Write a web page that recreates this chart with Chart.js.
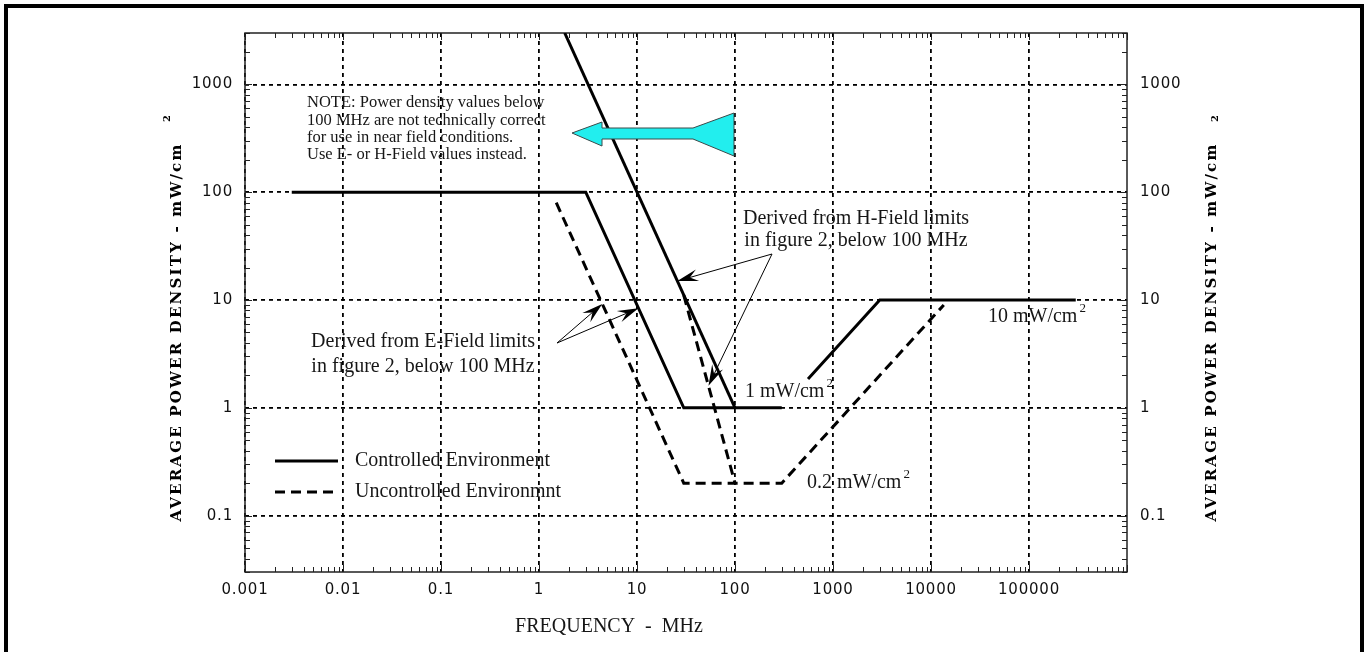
<!DOCTYPE html>
<html>
<head>
<meta charset="utf-8">
<script src="https://cdn.jsdelivr.net/npm/chart.js@4.4.0/dist/chart.umd.min.js"></script>
<style>
  html, body { margin: 0; padding: 0; background: #fff; }
  canvas { display: block; }
</style>
</head>
<body>
<canvas id="chart" width="1368" height="652"></canvas>
<script>
// axis ticks
const xTickValues = [0.001, 0.01, 0.1, 1, 10, 100, 1000, 10000, 100000];
const xTickLabels = ['0.001', '0.01', '0.1', '1', '10', '100', '1000', '10000', '100000'];
const yTickValues = [0.1, 1, 10, 100, 1000];
const yTickLabels = ['0.1', '1', '10', '100', '1000'];

// controlled environment (solid), MHz -> mW/cm2
const ctrlFreq = [0.003, 3, 30, 300, 400, 556, 3000, 300000];
const ctrlDensity = [100, 100, 1, 1, null, 1.85, 10, 10];
// uncontrolled environment (dashed)
const uncFreq = [1.5, 30, 300, 13500];
const uncDensity = [80, 0.2, 0.2, 9];
// derived from H-field limits
const hCtrlFreq = [1.83, 100];
const hCtrlDensity = [3000, 1];
const hUncFreq = [30, 100];
const hUncDensity = [11.1, 0.2];

const SERIF = '"Liberation Serif", "Times New Roman", serif';
const INK = '#161616';

function pts(f, d) {
    return f.map((v, i) => ({ x: v, y: d[i] }));
}

function line(data, dashed) {
    return {
        data: data,
        showLine: true,
        borderColor: '#000',
        borderWidth: 3,
        borderDash: dashed ? [10, 6] : [],
        borderCapStyle: 'butt',
        pointRadius: 0,
        spanGaps: false,
        tension: 0
    };
}

function pointer(ctx, x0, y0, x1, y1) {
    const a = Math.atan2(y1 - y0, x1 - x0);
    const len = 21, half = 6, notch = 13;
    ctx.beginPath();
    ctx.moveTo(x0, y0);
    ctx.lineTo(x1 - Math.cos(a) * notch, y1 - Math.sin(a) * notch);
    ctx.lineWidth = 1;
    ctx.strokeStyle = '#000';
    ctx.setLineDash([]);
    ctx.stroke();
    ctx.save();
    ctx.translate(x1, y1);
    ctx.rotate(a);
    ctx.beginPath();
    ctx.moveTo(0, 0);
    ctx.lineTo(-len, -half);
    ctx.lineTo(-notch, 0);
    ctx.lineTo(-len, half);
    ctx.closePath();
    ctx.fillStyle = '#000';
    ctx.fill();
    ctx.restore();
}

function unitLabel(ctx, text, x, y) {
    ctx.font = '20px ' + SERIF;
    ctx.textAlign = 'left';
    ctx.textBaseline = 'middle';
    ctx.fillText(text, x, y);
    const w = ctx.measureText(text).width;
    ctx.font = '13px ' + SERIF;
    ctx.fillText('2', x + w + 2, y - 8);
}

function yTitle(ctx, cx, cy, supShift) {
    ctx.save();
    ctx.translate(cx, cy);
    ctx.rotate(-Math.PI / 2);
    ctx.font = 'bold 15px "DejaVu Serif", serif';
    ctx.letterSpacing = '2.2px';
    ctx.textAlign = 'center';
    ctx.textBaseline = 'alphabetic';
    const t = 'AVERAGE POWER DENSITY - mW/cm';
    ctx.fillText(t, 0, 0);
    const w = ctx.measureText(t).width;
    ctx.font = 'bold 10px "DejaVu Serif", serif';
    ctx.letterSpacing = '0px';
    ctx.fillText('2', w / 2 + 24, supShift);
    ctx.restore();
}

const decor = {
    id: 'decor',
    beforeDraw(chart) {
        chart.ctx.letterSpacing = '0.8px';
    },
    beforeDatasetsDraw(chart) {
        const ctx = chart.ctx;
        ctx.letterSpacing = '0px';
        const a = chart.chartArea;
        const xs = chart.scales.x, ys = chart.scales.y;
        ctx.save();
        ctx.strokeStyle = '#222';
        ctx.lineWidth = 1;
        ctx.beginPath();
        // inward log ticks on all four sides
        for (let n = -3; n <= 6; n++) {
            for (let k = 1; k <= 9; k++) {
                const v = k * Math.pow(10, n);
                if (v < xs.min || v > xs.max) continue;
                const p = Math.round(xs.getPixelForValue(v)) + 0.5;
                const l = k === 1 ? 7 : 5;
                ctx.moveTo(p, a.bottom); ctx.lineTo(p, a.bottom - l);
                ctx.moveTo(p, a.top); ctx.lineTo(p, a.top + l);
            }
        }
        for (let n = -2; n <= 3; n++) {
            for (let k = 1; k <= 9; k++) {
                const v = k * Math.pow(10, n);
                if (v < ys.min || v > ys.max) continue;
                const p = Math.round(ys.getPixelForValue(v)) + 0.5;
                const l = k === 1 ? 7 : 5;
                ctx.moveTo(a.left, p); ctx.lineTo(a.left + l, p);
                ctx.moveTo(a.right, p); ctx.lineTo(a.right - l, p);
            }
        }
        ctx.stroke();
        ctx.lineWidth = 1.5;
        ctx.strokeRect(a.left, a.top, a.right - a.left, a.bottom - a.top);
        ctx.restore();
    },
    afterDraw(chart) {
        const ctx = chart.ctx;
        const xs = chart.scales.x, ys = chart.scales.y;
        const px = (f) => xs.getPixelForValue(f);
        const py = (d) => ys.getPixelForValue(d);
        ctx.save();
        ctx.letterSpacing = '0px';

        // outer frame
        ctx.fillStyle = '#000';
        ctx.fillRect(4, 4, 4, 660);
        ctx.fillRect(4, 4, 1360, 4);
        ctx.fillRect(1360, 4, 4, 660);

        // cyan arrow
        ctx.beginPath();
        ctx.moveTo(572, 133);
        ctx.lineTo(602, 122);
        ctx.lineTo(602, 128);
        ctx.lineTo(693, 128);
        ctx.lineTo(734, 113);
        ctx.lineTo(734, 156);
        ctx.lineTo(693, 139);
        ctx.lineTo(602, 139);
        ctx.lineTo(602, 146);
        ctx.closePath();
        ctx.fillStyle = '#22eeee';
        ctx.fill();
        ctx.strokeStyle = '#3a4a4a';
        ctx.lineWidth = 1;
        ctx.stroke();

        ctx.fillStyle = INK;
        ctx.textBaseline = 'middle';
        ctx.textAlign = 'left';
        ctx.font = '16.5px ' + SERIF;
        ['NOTE: Power density values below',
         '100 MHz are not technically correct',
         'for use in near field conditions.',
         'Use E- or H-Field values instead.'].forEach((s, i) => {
            ctx.fillText(s, 307, 103 + i * 17.3);
        });

        ctx.font = '20px ' + SERIF;
        ctx.textAlign = 'center';
        ctx.fillText('Derived from H-Field limits', 856, 219);
        ctx.fillText('in figure 2, below 100 MHz', 856, 241);
        ctx.fillText('Derived from E-Field limits', 423, 342);
        ctx.fillText('in figure 2, below 100 MHz', 423, 367);

        pointer(ctx, 772, 254, px(25.8), py(15));
        pointer(ctx, 772, 254, px(53.6), py(1.6));
        pointer(ctx, 557, 343, px(4.42), py(9.2));
        pointer(ctx, 557, 343, px(10.35), py(8.4));

        ctx.fillStyle = INK;
        unitLabel(ctx, '1 mW/cm', 745, 392);
        unitLabel(ctx, '0.2 mW/cm', 807, 483);
        unitLabel(ctx, '10 mW/cm', 988, 317);

        // legend
        ctx.strokeStyle = '#000';
        ctx.lineWidth = 3;
        ctx.setLineDash([]);
        ctx.beginPath(); ctx.moveTo(275, 461); ctx.lineTo(338, 461); ctx.stroke();
        ctx.setLineDash([10, 6]);
        ctx.beginPath(); ctx.moveTo(275, 492); ctx.lineTo(338, 492); ctx.stroke();
        ctx.setLineDash([]);
        ctx.font = '20px ' + SERIF;
        ctx.textAlign = 'left';
        ctx.fillText('Controlled Environment', 355, 461);
        ctx.fillText('Uncontrolled Environmnt', 355, 492);

        // axis titles
        ctx.font = '20px ' + SERIF;
        ctx.textAlign = 'center';
        ctx.fillText('FREQUENCY  -  MHz', 609, 627);
        ctx.fillStyle = '#000';
        yTitle(ctx, 181, 332, -11);
        yTitle(ctx, 1216, 332, 2);
        ctx.restore();
    }
};

const tickFont = { family: '"DejaVu Sans", sans-serif', size: 15 };

function logAxis(position, min, max, values, labels, width) {
    return {
        type: 'logarithmic',
        position: position,
        min: min,
        max: max,
        afterBuildTicks: (s) => { s.ticks = values.map(v => ({ value: v })); },
        afterFit: (s) => {
            if (position === 'bottom') s.height = width; else s.width = width;
        },
        ticks: {
            autoSkip: false,
            maxRotation: 0,
            color: '#111',
            font: tickFont,
            padding: position === 'bottom' ? 9 : (position === 'left' ? 12 : 13),
            callback: (v) => {
                const i = values.indexOf(v);
                return i >= 0 ? labels[i] : '';
            }
        },
        grid: {
            drawTicks: false,
            drawOnChartArea: position !== 'right',
            color: '#000',
            lineWidth: 1.8
        },
        border: { display: false, dash: [4, 4] }
    };
}

const ctx = document.getElementById('chart').getContext('2d');
new Chart(ctx, {
    type: 'scatter',
    data: {
        datasets: [
            line(pts(ctrlFreq, ctrlDensity), false),
            line(pts(uncFreq, uncDensity), true),
            line(pts(hCtrlFreq, hCtrlDensity), false),
            line(pts(hUncFreq, hUncDensity), true)
        ]
    },
    options: {
        responsive: false,
        animation: false,
        devicePixelRatio: 1,
        layout: { padding: { top: 33, left: 0, right: 0, bottom: 0 } },
        plugins: {
            legend: { display: false },
            tooltip: { enabled: false }
        },
        scales: {
            x: logAxis('bottom', 0.001, 1e6, xTickValues, xTickLabels, 80),
            y: logAxis('left', 0.03, 3000, yTickValues, yTickLabels, 245),
            y2: logAxis('right', 0.03, 3000, yTickValues, yTickLabels, 241)
        }
    },
    plugins: [decor]
});
</script>
</body>
</html>
